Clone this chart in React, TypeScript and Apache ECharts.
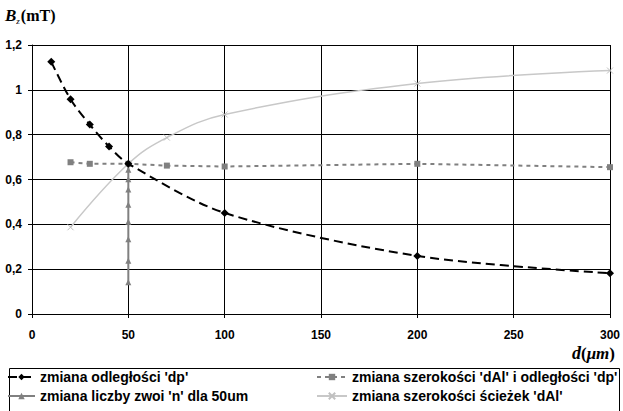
import React, { useEffect, useRef } from "react";
import * as echarts from "echarts";

// series 1: zmiana odległości 'dp'
const xDist = [10, 20, 30, 40, 50, 100, 200, 300];
const bDist = [1.125, 0.958, 0.845, 0.747, 0.67, 0.451, 0.259, 0.182];
// series 2: zmiana szerokości 'dAl' i odległości 'dp'
const xWidthDist = [20, 30, 50, 70, 100, 200, 300];
const bWidthDist = [0.677, 0.67, 0.67, 0.662, 0.658, 0.67, 0.655];
// series 3: zmiana liczby zwoi 'n' dla 50um
const xTurns = 50;
const bTurns = [0.67, 0.643, 0.601, 0.555, 0.487, 0.412, 0.333, 0.237, 0.142];
// series 4: zmiana szerokości ścieżek 'dAl'
const xWidth = [20, 50, 70, 100, 200, 300];
const bWidth = [0.387, 0.67, 0.787, 0.89, 1.028, 1.086];

const seriesNames = [
  "zmiana odległości 'dp'",
  "zmiana szerokości 'dAl' i odległości 'dp'",
  "zmiana liczby zwoi 'n' dla 50um",
  "zmiana szerokości ścieżek 'dAl'",
];

const xMin = 0, xMax = 300, xStep = 50;
const yMin = 0, yMax = 1.2, yStep = 0.2;

const crossPath = "path://M0,0L10,10M10,0L0,10";

export default function App() {
  const ref = useRef<HTMLDivElement>(null);
  useEffect(() => {
    if (!ref.current) return;
    const chart = echarts.init(ref.current, null, { renderer: "svg" });
    const font = "Arial, 'Liberation Sans', sans-serif";
    const serif = "'Times New Roman', 'Liberation Serif', serif";
    const legendText = { fontFamily: font, fontWeight: "bold" as const, fontSize: 14, color: "#000" };
    chart.setOption({
      animation: false,
      backgroundColor: "#fff",
      grid: { left: 32, right: 11, top: 45, bottom: 97, containLabel: false },
      xAxis: {
        type: "value",
        min: xMin,
        max: xMax,
        interval: xStep,
        axisLine: { show: true, lineStyle: { color: "#000", width: 1 } },
        axisTick: { show: true, length: 4, lineStyle: { color: "#000" } },
        axisLabel: { margin: 15, fontFamily: font, fontWeight: "bold", fontSize: 12, color: "#000" },
        splitLine: { show: true, lineStyle: { color: "#000", width: 1 } },
      },
      yAxis: {
        type: "value",
        min: yMin,
        max: yMax,
        interval: yStep,
        axisLine: { show: true, lineStyle: { color: "#000", width: 1 } },
        axisTick: { show: true, length: 4, lineStyle: { color: "#000" } },
        axisLabel: {
          margin: 10,
          fontFamily: font,
          fontWeight: "bold",
          fontSize: 12,
          color: "#000",
          formatter: (v: number) => String(Math.round(v * 10) / 10).replace(".", ","),
        },
        splitLine: { show: true, lineStyle: { color: "#000", width: 1 } },
      },
      legend: [
        {
          left: 7,
          top: 370,
          orient: "vertical",
          itemGap: 5,
          itemWidth: 27,
          itemHeight: 8,
          padding: 0,
          data: [seriesNames[0], seriesNames[2]],
          textStyle: legendText,
        },
        {
          left: 316,
          top: 370,
          orient: "vertical",
          itemGap: 5,
          itemWidth: 30,
          itemHeight: 8,
          padding: 0,
          data: [seriesNames[1], seriesNames[3]],
          textStyle: legendText,
        },
      ],
      graphic: [
        {
          type: "rect",
          shape: { x: 9.5, y: 368.5, width: 610, height: 50 },
          style: { fill: "none", stroke: "#000", lineWidth: 1 },
          silent: true,
        },
        {
          type: "text",
          left: 5,
          top: 7,
          style: {
            text: "{b|B}{z|z}{r|(mT)}",
            rich: {
              b: { fontFamily: serif, fontStyle: "italic", fontWeight: "bold", fontSize: 17, fill: "#000" },
              z: { fontFamily: serif, fontStyle: "italic", fontSize: 9, fill: "#000", padding: [10, 1, 0, 0] },
              r: { fontFamily: serif, fontWeight: "bold", fontSize: 16, fill: "#000" },
            },
          },
        },
        {
          type: "text",
          right: 8,
          top: 344,
          style: {
            text: "{d|d}{p|(}{m|μm}{p|)}",
            rich: {
              d: { fontFamily: serif, fontStyle: "italic", fontWeight: "bold", fontSize: 18, fill: "#000" },
              p: { fontFamily: serif, fontWeight: "bold", fontSize: 17, fill: "#000" },
              m: { fontFamily: serif, fontStyle: "italic", fontWeight: "bold", fontSize: 17, fill: "#000" },
            },
          },
        },
      ],
      series: [
        {
          name: seriesNames[0],
          type: "line",
          smooth: 0.3,
          data: xDist.map((x, i) => [x, bDist[i]]),
          symbol: "diamond",
          symbolSize: 8,
          itemStyle: { color: "#000" },
          lineStyle: { color: "#000", width: 2, type: [9, 5] },
          z: 5,
        },
        {
          name: seriesNames[1],
          type: "line",
          data: xWidthDist.map((x, i) => [x, bWidthDist[i]]),
          symbol: "rect",
          symbolSize: 6,
          itemStyle: { color: "#808080" },
          lineStyle: { color: "#808080", width: 2, type: [4, 4] },
          z: 3,
        },
        {
          name: seriesNames[2],
          type: "line",
          data: bTurns.map((b) => [xTurns, b]),
          symbol: "triangle",
          symbolSize: 6,
          itemStyle: { color: "#808080" },
          lineStyle: { color: "#808080", width: 2 },
          z: 2,
        },
        {
          name: seriesNames[3],
          type: "line",
          smooth: 0.4,
          data: xWidth.map((x, i) => [x, bWidth[i]]),
          symbol: crossPath,
          symbolSize: 6,
          itemStyle: { color: "#c0c0c0", borderColor: "#c0c0c0", borderWidth: 1 },
          lineStyle: { color: "#c8c8c8", width: 1.5 },
          z: 4,
        },
      ],
    });
    return () => chart.dispose();
  }, []);
  return (
    <div
      ref={ref}
      style={{ position: "absolute", left: 0, top: 0, width: 623, height: 411, background: "#fff" }}
    />
  );
}
